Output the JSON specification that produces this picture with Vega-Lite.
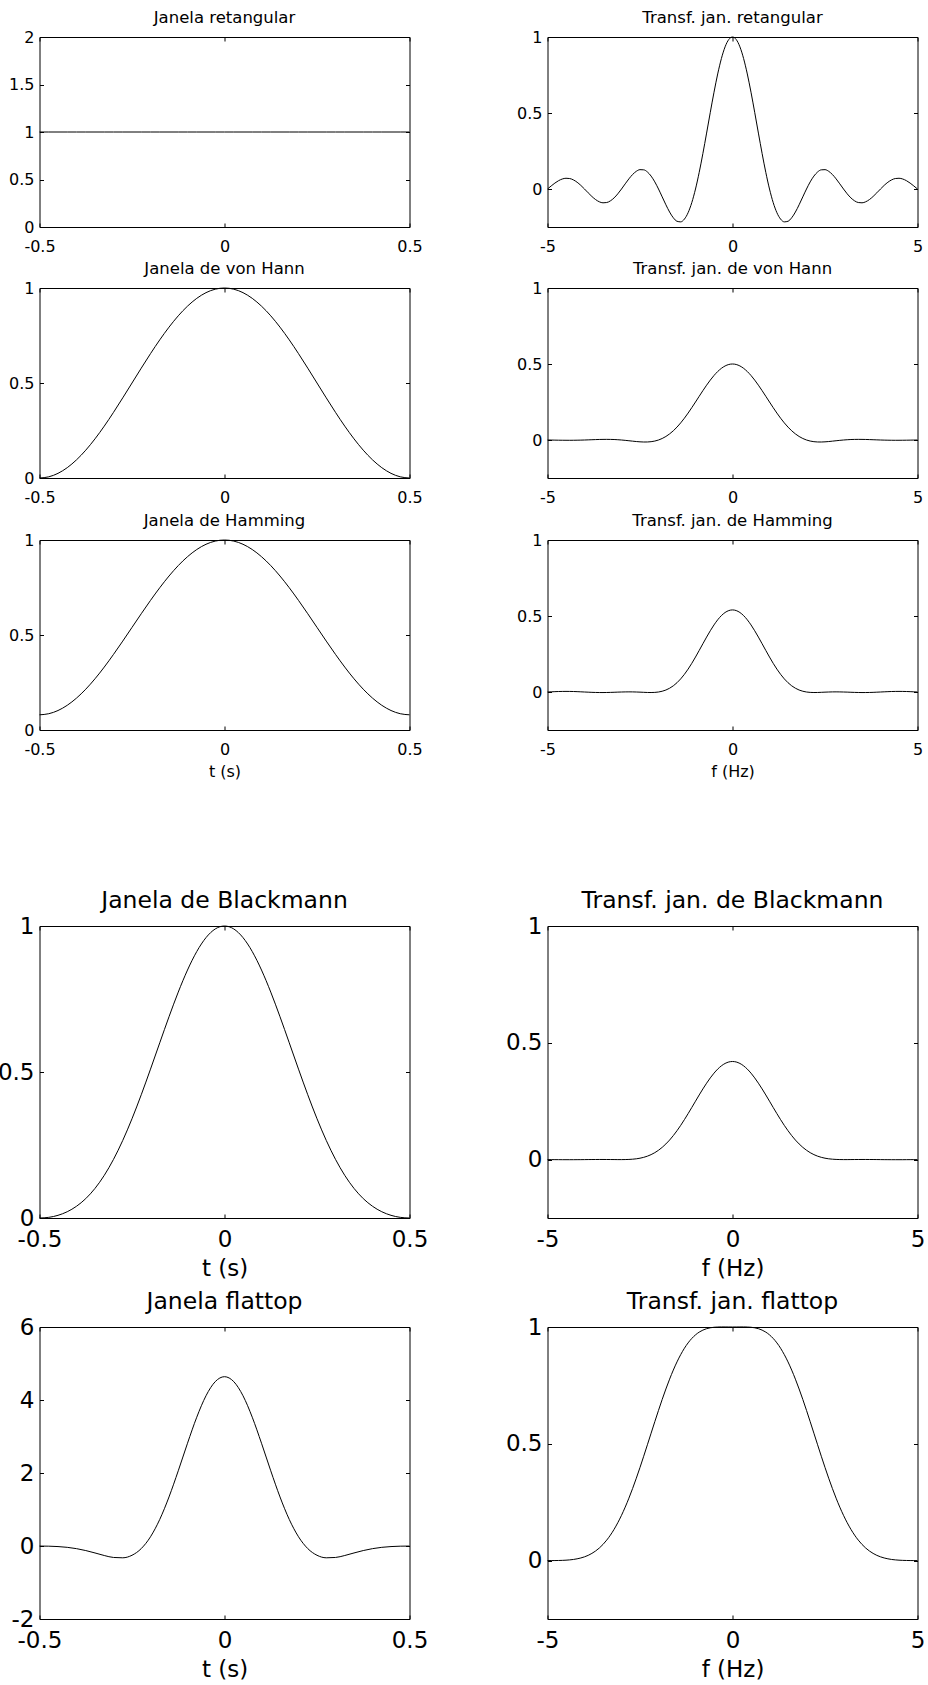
{
"$schema": "https://vega.github.io/schema/vega-lite/v6.json",
"padding": {"left": -3.5, "top": 9, "right": 0, "bottom": 0},
"background": "white",
"config": {
  "font": "DejaVu Sans",
  "view": {"stroke": "black", "strokeWidth": 1},
  "axis": {"grid": false, "domain": false, "ticks": true, "tickColor": "black", "tickSize": -4, "tickWidth": 1, "labelColor": "black", "titleColor": "black", "titleFontWeight": "normal", "labelFlush": false, "labelOverlap": false, "labelBound": false},
  "title": {"color": "black", "fontWeight": "normal", "frame": "group", "anchor": "middle"},
  "line": {"color": "black", "strokeWidth": 1, "interpolate": "monotone"}
},
"datasets": {
"time": [
{"t":-0.5,"rect":1,"hann":0,"hamming":0.08,"blackman":0,"flattop":-0.002},
{"t":-0.475,"rect":1,"hann":0.0062,"hamming":0.0857,"blackman":0.0022,"flattop":-0.005},
{"t":-0.45,"rect":1,"hann":0.0245,"hamming":0.1025,"blackman":0.0092,"flattop":-0.0155},
{"t":-0.425,"rect":1,"hann":0.0545,"hamming":0.1301,"blackman":0.0215,"flattop":-0.0366},
{"t":-0.4,"rect":1,"hann":0.0955,"hamming":0.1679,"blackman":0.0402,"flattop":-0.0724},
{"t":-0.375,"rect":1,"hann":0.1464,"hamming":0.2147,"blackman":0.0664,"flattop":-0.1247},
{"t":-0.35,"rect":1,"hann":0.2061,"hamming":0.2696,"blackman":0.1014,"flattop":-0.1907},
{"t":-0.325,"rect":1,"hann":0.273,"hamming":0.3312,"blackman":0.146,"flattop":-0.2604},
{"t":-0.3,"rect":1,"hann":0.3455,"hamming":0.3979,"blackman":0.2008,"flattop":-0.3141},
{"t":-0.275,"rect":1,"hann":0.4218,"hamming":0.468,"blackman":0.2657,"flattop":-0.3234},
{"t":-0.25,"rect":1,"hann":0.5,"hamming":0.54,"blackman":0.34,"flattop":-0.2539},
{"t":-0.225,"rect":1,"hann":0.5782,"hamming":0.612,"blackman":0.4221,"flattop":-0.0708},
{"t":-0.2,"rect":1,"hann":0.6545,"hamming":0.6821,"blackman":0.5098,"flattop":0.253},
{"t":-0.175,"rect":1,"hann":0.727,"hamming":0.7488,"blackman":0.6,"flattop":0.7285},
{"t":-0.15,"rect":1,"hann":0.7939,"hamming":0.8104,"blackman":0.6892,"flattop":1.3437},
{"t":-0.125,"rect":1,"hann":0.8536,"hamming":0.8653,"blackman":0.7736,"flattop":2.0602},
{"t":-0.1,"rect":1,"hann":0.9045,"hamming":0.9121,"blackman":0.8492,"flattop":2.8151},
{"t":-0.075,"rect":1,"hann":0.9455,"hamming":0.9499,"blackman":0.9125,"flattop":3.5286},
{"t":-0.05,"rect":1,"hann":0.9755,"hamming":0.9775,"blackman":0.9602,"flattop":4.1164},
{"t":-0.025,"rect":1,"hann":0.9938,"hamming":0.9943,"blackman":0.9899,"flattop":4.5035},
{"t":0,"rect":1,"hann":1,"hamming":1,"blackman":1,"flattop":4.6387},
{"t":0.025,"rect":1,"hann":0.9938,"hamming":0.9943,"blackman":0.9899,"flattop":4.5035},
{"t":0.05,"rect":1,"hann":0.9755,"hamming":0.9775,"blackman":0.9602,"flattop":4.1164},
{"t":0.075,"rect":1,"hann":0.9455,"hamming":0.9499,"blackman":0.9125,"flattop":3.5286},
{"t":0.1,"rect":1,"hann":0.9045,"hamming":0.9121,"blackman":0.8492,"flattop":2.8151},
{"t":0.125,"rect":1,"hann":0.8536,"hamming":0.8653,"blackman":0.7736,"flattop":2.0602},
{"t":0.15,"rect":1,"hann":0.7939,"hamming":0.8104,"blackman":0.6892,"flattop":1.3437},
{"t":0.175,"rect":1,"hann":0.727,"hamming":0.7488,"blackman":0.6,"flattop":0.7285},
{"t":0.2,"rect":1,"hann":0.6545,"hamming":0.6821,"blackman":0.5098,"flattop":0.253},
{"t":0.225,"rect":1,"hann":0.5782,"hamming":0.612,"blackman":0.4221,"flattop":-0.0708},
{"t":0.25,"rect":1,"hann":0.5,"hamming":0.54,"blackman":0.34,"flattop":-0.2539},
{"t":0.275,"rect":1,"hann":0.4218,"hamming":0.468,"blackman":0.2657,"flattop":-0.3234},
{"t":0.3,"rect":1,"hann":0.3455,"hamming":0.3979,"blackman":0.2008,"flattop":-0.3141},
{"t":0.325,"rect":1,"hann":0.273,"hamming":0.3312,"blackman":0.146,"flattop":-0.2604},
{"t":0.35,"rect":1,"hann":0.2061,"hamming":0.2696,"blackman":0.1014,"flattop":-0.1907},
{"t":0.375,"rect":1,"hann":0.1464,"hamming":0.2147,"blackman":0.0664,"flattop":-0.1247},
{"t":0.4,"rect":1,"hann":0.0955,"hamming":0.1679,"blackman":0.0402,"flattop":-0.0724},
{"t":0.425,"rect":1,"hann":0.0545,"hamming":0.1301,"blackman":0.0215,"flattop":-0.0366},
{"t":0.45,"rect":1,"hann":0.0245,"hamming":0.1025,"blackman":0.0092,"flattop":-0.0155},
{"t":0.475,"rect":1,"hann":0.0062,"hamming":0.0857,"blackman":0.0022,"flattop":-0.005},
{"t":0.5,"rect":1,"hann":0,"hamming":0.08,"blackman":0,"flattop":-0.002}
],
"freq": [
{"f":-5,"rect":0,"hann":0,"hamming":0,"blackman":0,"flattop":0},
{"f":-4.9,"rect":0.0201,"hann":-0.0004,"hamming":0.0012,"blackman":-0.0001,"flattop":0.0001},
{"f":-4.8,"rect":0.039,"hann":-0.0009,"hamming":0.0023,"blackman":-0.0002,"flattop":0.0002},
{"f":-4.7,"rect":0.0548,"hann":-0.0013,"hamming":0.0032,"blackman":-0.0003,"flattop":0.0005},
{"f":-4.6,"rect":0.0658,"hann":-0.0016,"hamming":0.0038,"blackman":-0.0004,"flattop":0.001},
{"f":-4.5,"rect":0.0707,"hann":-0.0018,"hamming":0.004,"blackman":-0.0004,"flattop":0.0018},
{"f":-4.4,"rect":0.0688,"hann":-0.0019,"hamming":0.0038,"blackman":-0.0004,"flattop":0.0031},
{"f":-4.3,"rect":0.0599,"hann":-0.0017,"hamming":0.0032,"blackman":-0.0004,"flattop":0.0049},
{"f":-4.2,"rect":0.0445,"hann":-0.0013,"hamming":0.0023,"blackman":-0.0003,"flattop":0.0076},
{"f":-4.1,"rect":0.024,"hann":-0.0008,"hamming":0.0012,"blackman":-0.0002,"flattop":0.0112},
{"f":-4,"rect":0,"hann":0,"hamming":0,"blackman":0,"flattop":0.0161},
{"f":-3.9,"rect":-0.0252,"hann":0.0009,"hamming":-0.0012,"blackman":0.0002,"flattop":0.0225},
{"f":-3.8,"rect":-0.0492,"hann":0.0018,"hamming":-0.0023,"blackman":0.0003,"flattop":0.0308},
{"f":-3.7,"rect":-0.0696,"hann":0.0027,"hamming":-0.003,"blackman":0.0004,"flattop":0.0411},
{"f":-3.6,"rect":-0.0841,"hann":0.0035,"hamming":-0.0035,"blackman":0.0005,"flattop":0.0538},
{"f":-3.5,"rect":-0.0909,"hann":0.004,"hamming":-0.0036,"blackman":0.0005,"flattop":0.0692},
{"f":-3.4,"rect":-0.089,"hann":0.0042,"hamming":-0.0032,"blackman":0.0004,"flattop":0.0876},
{"f":-3.3,"rect":-0.078,"hann":0.0039,"hamming":-0.0026,"blackman":0.0003,"flattop":0.1091},
{"f":-3.2,"rect":-0.0585,"hann":0.0032,"hamming":-0.0018,"blackman":0.0002,"flattop":0.1339},
{"f":-3.1,"rect":-0.0317,"hann":0.0018,"hamming":-0.0008,"blackman":0,"flattop":0.1622},
{"f":-3,"rect":0,"hann":0,"hamming":0,"blackman":0,"flattop":0.1938},
{"f":-2.9,"rect":0.0339,"hann":-0.0023,"hamming":0.0006,"blackman":0.0002,"flattop":0.2289},
{"f":-2.8,"rect":0.0668,"hann":-0.0049,"hamming":0.0009,"blackman":0.0007,"flattop":0.2673},
{"f":-2.7,"rect":0.0954,"hann":-0.0076,"hamming":0.0007,"blackman":0.0017,"flattop":0.3086},
{"f":-2.6,"rect":0.1164,"hann":-0.0101,"hamming":0,"blackman":0.0034,"flattop":0.3526},
{"f":-2.5,"rect":0.1273,"hann":-0.0121,"hamming":-0.001,"blackman":0.006,"flattop":0.3988},
{"f":-2.4,"rect":0.1261,"hann":-0.0132,"hamming":-0.0021,"blackman":0.0097,"flattop":0.4467},
{"f":-2.3,"rect":0.112,"hann":-0.013,"hamming":-0.0031,"blackman":0.0147,"flattop":0.4958},
{"f":-2.2,"rect":0.085,"hann":-0.0111,"hamming":-0.0034,"blackman":0.0213,"flattop":0.5453},
{"f":-2.1,"rect":0.0468,"hann":-0.0069,"hamming":-0.0026,"blackman":0.0297,"flattop":0.5946},
{"f":-2,"rect":0,"hann":0,"hamming":0,"blackman":0.04,"flattop":0.6431},
{"f":-1.9,"rect":-0.0518,"hann":0.0099,"hamming":0.005,"blackman":0.0524,"flattop":0.69},
{"f":-1.8,"rect":-0.1039,"hann":0.0232,"hamming":0.013,"blackman":0.067,"flattop":0.7347},
{"f":-1.7,"rect":-0.1515,"hann":0.0401,"hamming":0.0248,"blackman":0.0837,"flattop":0.7767},
{"f":-1.6,"rect":-0.1892,"hann":0.0606,"hamming":0.0407,"blackman":0.1027,"flattop":0.8155},
{"f":-1.5,"rect":-0.2122,"hann":0.0849,"hamming":0.0611,"blackman":0.1237,"flattop":0.8506},
{"f":-1.4,"rect":-0.2162,"hann":0.1126,"hamming":0.0863,"blackman":0.1465,"flattop":0.8818},
{"f":-1.3,"rect":-0.1981,"hann":0.1435,"hamming":0.1162,"blackman":0.171,"flattop":0.909},
{"f":-1.2,"rect":-0.1559,"hann":0.1772,"hamming":0.1505,"blackman":0.1967,"flattop":0.932},
{"f":-1.1,"rect":-0.0894,"hann":0.2129,"hamming":0.1887,"blackman":0.2232,"flattop":0.9511},
{"f":-1,"rect":0,"hann":0.25,"hamming":0.23,"blackman":0.25,"flattop":0.9663},
{"f":-0.9,"rect":0.1093,"hann":0.2876,"hamming":0.2734,"blackman":0.2767,"flattop":0.9781},
{"f":-0.8,"rect":0.2339,"hann":0.3248,"hamming":0.3176,"blackman":0.3026,"flattop":0.9867},
{"f":-0.7,"rect":0.3679,"hann":0.3607,"hamming":0.3613,"blackman":0.3271,"flattop":0.9928},
{"f":-0.6,"rect":0.5046,"hann":0.3942,"hamming":0.403,"blackman":0.3498,"flattop":0.9966},
{"f":-0.5,"rect":0.6366,"hann":0.4244,"hamming":0.4414,"blackman":0.3701,"flattop":0.9989},
{"f":-0.4,"rect":0.7568,"hann":0.4505,"hamming":0.475,"blackman":0.3874,"flattop":0.9999},
{"f":-0.3,"rect":0.8584,"hann":0.4716,"hamming":0.5026,"blackman":0.4014,"flattop":1.0003},
{"f":-0.2,"rect":0.9355,"hann":0.4872,"hamming":0.5231,"blackman":0.4116,"flattop":1.0002},
{"f":-0.1,"rect":0.9836,"hann":0.4968,"hamming":0.5357,"blackman":0.4179,"flattop":1.0001},
{"f":0,"rect":1,"hann":0.5,"hamming":0.54,"blackman":0.42,"flattop":1},
{"f":0.1,"rect":0.9836,"hann":0.4968,"hamming":0.5357,"blackman":0.4179,"flattop":1.0001},
{"f":0.2,"rect":0.9355,"hann":0.4872,"hamming":0.5231,"blackman":0.4116,"flattop":1.0002},
{"f":0.3,"rect":0.8584,"hann":0.4716,"hamming":0.5026,"blackman":0.4014,"flattop":1.0003},
{"f":0.4,"rect":0.7568,"hann":0.4505,"hamming":0.475,"blackman":0.3874,"flattop":0.9999},
{"f":0.5,"rect":0.6366,"hann":0.4244,"hamming":0.4414,"blackman":0.3701,"flattop":0.9989},
{"f":0.6,"rect":0.5046,"hann":0.3942,"hamming":0.403,"blackman":0.3498,"flattop":0.9966},
{"f":0.7,"rect":0.3679,"hann":0.3607,"hamming":0.3613,"blackman":0.3271,"flattop":0.9928},
{"f":0.8,"rect":0.2339,"hann":0.3248,"hamming":0.3176,"blackman":0.3026,"flattop":0.9867},
{"f":0.9,"rect":0.1093,"hann":0.2876,"hamming":0.2734,"blackman":0.2767,"flattop":0.9781},
{"f":1,"rect":0,"hann":0.25,"hamming":0.23,"blackman":0.25,"flattop":0.9663},
{"f":1.1,"rect":-0.0894,"hann":0.2129,"hamming":0.1887,"blackman":0.2232,"flattop":0.9511},
{"f":1.2,"rect":-0.1559,"hann":0.1772,"hamming":0.1505,"blackman":0.1967,"flattop":0.932},
{"f":1.3,"rect":-0.1981,"hann":0.1435,"hamming":0.1162,"blackman":0.171,"flattop":0.909},
{"f":1.4,"rect":-0.2162,"hann":0.1126,"hamming":0.0863,"blackman":0.1465,"flattop":0.8818},
{"f":1.5,"rect":-0.2122,"hann":0.0849,"hamming":0.0611,"blackman":0.1237,"flattop":0.8506},
{"f":1.6,"rect":-0.1892,"hann":0.0606,"hamming":0.0407,"blackman":0.1027,"flattop":0.8155},
{"f":1.7,"rect":-0.1515,"hann":0.0401,"hamming":0.0248,"blackman":0.0837,"flattop":0.7767},
{"f":1.8,"rect":-0.1039,"hann":0.0232,"hamming":0.013,"blackman":0.067,"flattop":0.7347},
{"f":1.9,"rect":-0.0518,"hann":0.0099,"hamming":0.005,"blackman":0.0524,"flattop":0.69},
{"f":2,"rect":0,"hann":0,"hamming":0,"blackman":0.04,"flattop":0.6431},
{"f":2.1,"rect":0.0468,"hann":-0.0069,"hamming":-0.0026,"blackman":0.0297,"flattop":0.5946},
{"f":2.2,"rect":0.085,"hann":-0.0111,"hamming":-0.0034,"blackman":0.0213,"flattop":0.5453},
{"f":2.3,"rect":0.112,"hann":-0.013,"hamming":-0.0031,"blackman":0.0147,"flattop":0.4958},
{"f":2.4,"rect":0.1261,"hann":-0.0132,"hamming":-0.0021,"blackman":0.0097,"flattop":0.4467},
{"f":2.5,"rect":0.1273,"hann":-0.0121,"hamming":-0.001,"blackman":0.006,"flattop":0.3988},
{"f":2.6,"rect":0.1164,"hann":-0.0101,"hamming":0,"blackman":0.0034,"flattop":0.3526},
{"f":2.7,"rect":0.0954,"hann":-0.0076,"hamming":0.0007,"blackman":0.0017,"flattop":0.3086},
{"f":2.8,"rect":0.0668,"hann":-0.0049,"hamming":0.0009,"blackman":0.0007,"flattop":0.2673},
{"f":2.9,"rect":0.0339,"hann":-0.0023,"hamming":0.0006,"blackman":0.0002,"flattop":0.2289},
{"f":3,"rect":0,"hann":0,"hamming":0,"blackman":0,"flattop":0.1938},
{"f":3.1,"rect":-0.0317,"hann":0.0018,"hamming":-0.0008,"blackman":0,"flattop":0.1622},
{"f":3.2,"rect":-0.0585,"hann":0.0032,"hamming":-0.0018,"blackman":0.0002,"flattop":0.1339},
{"f":3.3,"rect":-0.078,"hann":0.0039,"hamming":-0.0026,"blackman":0.0003,"flattop":0.1091},
{"f":3.4,"rect":-0.089,"hann":0.0042,"hamming":-0.0032,"blackman":0.0004,"flattop":0.0876},
{"f":3.5,"rect":-0.0909,"hann":0.004,"hamming":-0.0036,"blackman":0.0005,"flattop":0.0692},
{"f":3.6,"rect":-0.0841,"hann":0.0035,"hamming":-0.0035,"blackman":0.0005,"flattop":0.0538},
{"f":3.7,"rect":-0.0696,"hann":0.0027,"hamming":-0.003,"blackman":0.0004,"flattop":0.0411},
{"f":3.8,"rect":-0.0492,"hann":0.0018,"hamming":-0.0023,"blackman":0.0003,"flattop":0.0308},
{"f":3.9,"rect":-0.0252,"hann":0.0009,"hamming":-0.0012,"blackman":0.0002,"flattop":0.0225},
{"f":4,"rect":0,"hann":0,"hamming":0,"blackman":0,"flattop":0.0161},
{"f":4.1,"rect":0.024,"hann":-0.0008,"hamming":0.0012,"blackman":-0.0002,"flattop":0.0112},
{"f":4.2,"rect":0.0445,"hann":-0.0013,"hamming":0.0023,"blackman":-0.0003,"flattop":0.0076},
{"f":4.3,"rect":0.0599,"hann":-0.0017,"hamming":0.0032,"blackman":-0.0004,"flattop":0.0049},
{"f":4.4,"rect":0.0688,"hann":-0.0019,"hamming":0.0038,"blackman":-0.0004,"flattop":0.0031},
{"f":4.5,"rect":0.0707,"hann":-0.0018,"hamming":0.004,"blackman":-0.0004,"flattop":0.0018},
{"f":4.6,"rect":0.0658,"hann":-0.0016,"hamming":0.0038,"blackman":-0.0004,"flattop":0.001},
{"f":4.7,"rect":0.0548,"hann":-0.0013,"hamming":0.0032,"blackman":-0.0003,"flattop":0.0005},
{"f":4.8,"rect":0.039,"hann":-0.0009,"hamming":0.0023,"blackman":-0.0002,"flattop":0.0002},
{"f":4.9,"rect":0.0201,"hann":-0.0004,"hamming":0.0012,"blackman":-0.0001,"flattop":0.0001},
{"f":5,"rect":0,"hann":0,"hamming":0,"blackman":0,"flattop":0}
]
},
"columns": 2,
"spacing": {"row": 0, "column": 138},
"bounds": "flush",
"concat": [
{"width": 370, "height": 190, "data": {"name": "time"}, "title": {"text": "Janela retangular", "fontSize": 16.5, "offset": 3},
 "layer": [
  {"mark": "line", "encoding": {
    "x": {"field": "t", "type": "quantitative", "scale": {"domain": [-0.5, 0.5], "nice": false, "zero": false}, "axis": {"orient": "bottom", "values": [-0.5, 0, 0.5], "labelExpr": "'' + datum.value", "labelFontSize": 16, "labelPadding": 15, "title": null}},
    "y": {"field": "rect", "type": "quantitative", "scale": {"domain": [0, 2], "nice": false, "zero": false}, "axis": {"orient": "left", "values": [0, 0.5, 1, 1.5, 2], "labelExpr": "'' + datum.value", "labelFontSize": 16, "labelPadding": 9.5, "title": null}}}},
  {"mark": {"type": "line", "opacity": 0}, "encoding": {
    "x": {"field": "t", "type": "quantitative", "scale": {"domain": [-0.5, 0.5], "nice": false, "zero": false}, "axis": {"orient": "top", "values": [-0.5, 0, 0.5], "labels": false, "title": null}},
    "y": {"field": "rect", "type": "quantitative", "scale": {"domain": [0, 2], "nice": false, "zero": false}, "axis": {"orient": "right", "values": [0, 0.5, 1, 1.5, 2], "labels": false, "title": null}}}}
 ],
 "resolve": {"axis": {"x": "independent", "y": "independent"}}},
{"width": 370, "height": 190, "data": {"name": "freq"}, "title": {"text": "Transf. jan. retangular", "fontSize": 16.5, "offset": 3},
 "layer": [
  {"mark": "line", "encoding": {
    "x": {"field": "f", "type": "quantitative", "scale": {"domain": [-5, 5], "nice": false, "zero": false}, "axis": {"orient": "bottom", "values": [-5, 0, 5], "labelExpr": "'' + datum.value", "labelFontSize": 16, "labelPadding": 15, "title": null}},
    "y": {"field": "rect", "type": "quantitative", "scale": {"domain": [-0.25, 1], "nice": false, "zero": false}, "axis": {"orient": "left", "values": [0, 0.5, 1], "labelExpr": "'' + datum.value", "labelFontSize": 16, "labelPadding": 9.5, "title": null}}}},
  {"mark": {"type": "line", "opacity": 0}, "encoding": {
    "x": {"field": "f", "type": "quantitative", "scale": {"domain": [-5, 5], "nice": false, "zero": false}, "axis": {"orient": "top", "values": [-5, 0, 5], "labels": false, "title": null}},
    "y": {"field": "rect", "type": "quantitative", "scale": {"domain": [-0.25, 1], "nice": false, "zero": false}, "axis": {"orient": "right", "values": [0, 0.5, 1], "labels": false, "title": null}}}}
 ],
 "resolve": {"axis": {"x": "independent", "y": "independent"}}},
{"width": 370, "height": 61, "data": {"values": []}, "mark": "point", "view": {"stroke": null}},
{"width": 370, "height": 61, "data": {"values": []}, "mark": "point", "view": {"stroke": null}},
{"width": 370, "height": 190, "data": {"name": "time"}, "title": {"text": "Janela de von Hann", "fontSize": 16.5, "offset": 3},
 "layer": [
  {"mark": "line", "encoding": {
    "x": {"field": "t", "type": "quantitative", "scale": {"domain": [-0.5, 0.5], "nice": false, "zero": false}, "axis": {"orient": "bottom", "values": [-0.5, 0, 0.5], "labelExpr": "'' + datum.value", "labelFontSize": 16, "labelPadding": 15, "title": null}},
    "y": {"field": "hann", "type": "quantitative", "scale": {"domain": [0, 1], "nice": false, "zero": false}, "axis": {"orient": "left", "values": [0, 0.5, 1], "labelExpr": "'' + datum.value", "labelFontSize": 16, "labelPadding": 9.5, "title": null}}}},
  {"mark": {"type": "line", "opacity": 0}, "encoding": {
    "x": {"field": "t", "type": "quantitative", "scale": {"domain": [-0.5, 0.5], "nice": false, "zero": false}, "axis": {"orient": "top", "values": [-0.5, 0, 0.5], "labels": false, "title": null}},
    "y": {"field": "hann", "type": "quantitative", "scale": {"domain": [0, 1], "nice": false, "zero": false}, "axis": {"orient": "right", "values": [0, 0.5, 1], "labels": false, "title": null}}}}
 ],
 "resolve": {"axis": {"x": "independent", "y": "independent"}}},
{"width": 370, "height": 190, "data": {"name": "freq"}, "title": {"text": "Transf. jan. de von Hann", "fontSize": 16.5, "offset": 3},
 "layer": [
  {"mark": "line", "encoding": {
    "x": {"field": "f", "type": "quantitative", "scale": {"domain": [-5, 5], "nice": false, "zero": false}, "axis": {"orient": "bottom", "values": [-5, 0, 5], "labelExpr": "'' + datum.value", "labelFontSize": 16, "labelPadding": 15, "title": null}},
    "y": {"field": "hann", "type": "quantitative", "scale": {"domain": [-0.25, 1], "nice": false, "zero": false}, "axis": {"orient": "left", "values": [0, 0.5, 1], "labelExpr": "'' + datum.value", "labelFontSize": 16, "labelPadding": 9.5, "title": null}}}},
  {"mark": {"type": "line", "opacity": 0}, "encoding": {
    "x": {"field": "f", "type": "quantitative", "scale": {"domain": [-5, 5], "nice": false, "zero": false}, "axis": {"orient": "top", "values": [-5, 0, 5], "labels": false, "title": null}},
    "y": {"field": "hann", "type": "quantitative", "scale": {"domain": [-0.25, 1], "nice": false, "zero": false}, "axis": {"orient": "right", "values": [0, 0.5, 1], "labels": false, "title": null}}}}
 ],
 "resolve": {"axis": {"x": "independent", "y": "independent"}}},
{"width": 370, "height": 62, "data": {"values": []}, "mark": "point", "view": {"stroke": null}},
{"width": 370, "height": 62, "data": {"values": []}, "mark": "point", "view": {"stroke": null}},
{"width": 370, "height": 190, "data": {"name": "time"}, "title": {"text": "Janela de Hamming", "fontSize": 16.5, "offset": 3},
 "layer": [
  {"mark": "line", "encoding": {
    "x": {"field": "t", "type": "quantitative", "scale": {"domain": [-0.5, 0.5], "nice": false, "zero": false}, "axis": {"orient": "bottom", "values": [-0.5, 0, 0.5], "labelExpr": "'' + datum.value", "labelFontSize": 16, "labelPadding": 15, "title": "t (s)", "titleFontSize": 16, "titlePadding": 6}},
    "y": {"field": "hamming", "type": "quantitative", "scale": {"domain": [0, 1], "nice": false, "zero": false}, "axis": {"orient": "left", "values": [0, 0.5, 1], "labelExpr": "'' + datum.value", "labelFontSize": 16, "labelPadding": 9.5, "title": null}}}},
  {"mark": {"type": "line", "opacity": 0}, "encoding": {
    "x": {"field": "t", "type": "quantitative", "scale": {"domain": [-0.5, 0.5], "nice": false, "zero": false}, "axis": {"orient": "top", "values": [-0.5, 0, 0.5], "labels": false, "title": null}},
    "y": {"field": "hamming", "type": "quantitative", "scale": {"domain": [0, 1], "nice": false, "zero": false}, "axis": {"orient": "right", "values": [0, 0.5, 1], "labels": false, "title": null}}}}
 ],
 "resolve": {"axis": {"x": "independent", "y": "independent"}}},
{"width": 370, "height": 190, "data": {"name": "freq"}, "title": {"text": "Transf. jan. de Hamming", "fontSize": 16.5, "offset": 3},
 "layer": [
  {"mark": "line", "encoding": {
    "x": {"field": "f", "type": "quantitative", "scale": {"domain": [-5, 5], "nice": false, "zero": false}, "axis": {"orient": "bottom", "values": [-5, 0, 5], "labelExpr": "'' + datum.value", "labelFontSize": 16, "labelPadding": 15, "title": "f (Hz)", "titleFontSize": 16, "titlePadding": 6}},
    "y": {"field": "hamming", "type": "quantitative", "scale": {"domain": [-0.25, 1], "nice": false, "zero": false}, "axis": {"orient": "left", "values": [0, 0.5, 1], "labelExpr": "'' + datum.value", "labelFontSize": 16, "labelPadding": 9.5, "title": null}}}},
  {"mark": {"type": "line", "opacity": 0}, "encoding": {
    "x": {"field": "f", "type": "quantitative", "scale": {"domain": [-5, 5], "nice": false, "zero": false}, "axis": {"orient": "top", "values": [-5, 0, 5], "labels": false, "title": null}},
    "y": {"field": "hamming", "type": "quantitative", "scale": {"domain": [-0.25, 1], "nice": false, "zero": false}, "axis": {"orient": "right", "values": [0, 0.5, 1], "labels": false, "title": null}}}}
 ],
 "resolve": {"axis": {"x": "independent", "y": "independent"}}},
{"width": 370, "height": 196, "data": {"values": []}, "mark": "point", "view": {"stroke": null}},
{"width": 370, "height": 196, "data": {"values": []}, "mark": "point", "view": {"stroke": null}},
{"width": 370, "height": 292, "data": {"name": "time"}, "title": {"text": "Janela de Blackmann", "fontSize": 23.5, "offset": 3},
 "layer": [
  {"mark": "line", "encoding": {
    "x": {"field": "t", "type": "quantitative", "scale": {"domain": [-0.5, 0.5], "nice": false, "zero": false}, "axis": {"orient": "bottom", "values": [-0.5, 0, 0.5], "labelExpr": "'' + datum.value", "labelFontSize": 23, "labelPadding": 14, "title": "t (s)", "titleFontSize": 23, "titlePadding": 6}},
    "y": {"field": "blackman", "type": "quantitative", "scale": {"domain": [0, 1], "nice": false, "zero": false}, "axis": {"orient": "left", "values": [0, 0.5, 1], "labelExpr": "'' + datum.value", "labelFontSize": 23, "labelPadding": 9.5, "title": null}}}},
  {"mark": {"type": "line", "opacity": 0}, "encoding": {
    "x": {"field": "t", "type": "quantitative", "scale": {"domain": [-0.5, 0.5], "nice": false, "zero": false}, "axis": {"orient": "top", "values": [-0.5, 0, 0.5], "labels": false, "title": null}},
    "y": {"field": "blackman", "type": "quantitative", "scale": {"domain": [0, 1], "nice": false, "zero": false}, "axis": {"orient": "right", "values": [0, 0.5, 1], "labels": false, "title": null}}}}
 ],
 "resolve": {"axis": {"x": "independent", "y": "independent"}}},
{"width": 370, "height": 292, "data": {"name": "freq"}, "title": {"text": "Transf. jan. de Blackmann", "fontSize": 23.5, "offset": 3},
 "layer": [
  {"mark": "line", "encoding": {
    "x": {"field": "f", "type": "quantitative", "scale": {"domain": [-5, 5], "nice": false, "zero": false}, "axis": {"orient": "bottom", "values": [-5, 0, 5], "labelExpr": "'' + datum.value", "labelFontSize": 23, "labelPadding": 14, "title": "f (Hz)", "titleFontSize": 23, "titlePadding": 6}},
    "y": {"field": "blackman", "type": "quantitative", "scale": {"domain": [-0.25, 1], "nice": false, "zero": false}, "axis": {"orient": "left", "values": [0, 0.5, 1], "labelExpr": "'' + datum.value", "labelFontSize": 23, "labelPadding": 9.5, "title": null}}}},
  {"mark": {"type": "line", "opacity": 0}, "encoding": {
    "x": {"field": "f", "type": "quantitative", "scale": {"domain": [-5, 5], "nice": false, "zero": false}, "axis": {"orient": "top", "values": [-5, 0, 5], "labels": false, "title": null}},
    "y": {"field": "blackman", "type": "quantitative", "scale": {"domain": [-0.25, 1], "nice": false, "zero": false}, "axis": {"orient": "right", "values": [0, 0.5, 1], "labels": false, "title": null}}}}
 ],
 "resolve": {"axis": {"x": "independent", "y": "independent"}}},
{"width": 370, "height": 109, "data": {"values": []}, "mark": "point", "view": {"stroke": null}},
{"width": 370, "height": 109, "data": {"values": []}, "mark": "point", "view": {"stroke": null}},
{"width": 370, "height": 292, "data": {"name": "time"}, "title": {"text": "Janela flattop", "fontSize": 23.5, "offset": 3},
 "layer": [
  {"mark": "line", "encoding": {
    "x": {"field": "t", "type": "quantitative", "scale": {"domain": [-0.5, 0.5], "nice": false, "zero": false}, "axis": {"orient": "bottom", "values": [-0.5, 0, 0.5], "labelExpr": "'' + datum.value", "labelFontSize": 23, "labelPadding": 14, "title": "t (s)", "titleFontSize": 23, "titlePadding": 6}},
    "y": {"field": "flattop", "type": "quantitative", "scale": {"domain": [-2, 6], "nice": false, "zero": false}, "axis": {"orient": "left", "values": [-2, 0, 2, 4, 6], "labelExpr": "'' + datum.value", "labelFontSize": 23, "labelPadding": 9.5, "title": null}}}},
  {"mark": {"type": "line", "opacity": 0}, "encoding": {
    "x": {"field": "t", "type": "quantitative", "scale": {"domain": [-0.5, 0.5], "nice": false, "zero": false}, "axis": {"orient": "top", "values": [-0.5, 0, 0.5], "labels": false, "title": null}},
    "y": {"field": "flattop", "type": "quantitative", "scale": {"domain": [-2, 6], "nice": false, "zero": false}, "axis": {"orient": "right", "values": [-2, 0, 2, 4, 6], "labels": false, "title": null}}}}
 ],
 "resolve": {"axis": {"x": "independent", "y": "independent"}}},
{"width": 370, "height": 292, "data": {"name": "freq"}, "title": {"text": "Transf. jan. flattop", "fontSize": 23.5, "offset": 3},
 "layer": [
  {"mark": "line", "encoding": {
    "x": {"field": "f", "type": "quantitative", "scale": {"domain": [-5, 5], "nice": false, "zero": false}, "axis": {"orient": "bottom", "values": [-5, 0, 5], "labelExpr": "'' + datum.value", "labelFontSize": 23, "labelPadding": 14, "title": "f (Hz)", "titleFontSize": 23, "titlePadding": 6}},
    "y": {"field": "flattop", "type": "quantitative", "scale": {"domain": [-0.25, 1], "nice": false, "zero": false}, "axis": {"orient": "left", "values": [0, 0.5, 1], "labelExpr": "'' + datum.value", "labelFontSize": 23, "labelPadding": 9.5, "title": null}}}},
  {"mark": {"type": "line", "opacity": 0}, "encoding": {
    "x": {"field": "f", "type": "quantitative", "scale": {"domain": [-5, 5], "nice": false, "zero": false}, "axis": {"orient": "top", "values": [-5, 0, 5], "labels": false, "title": null}},
    "y": {"field": "flattop", "type": "quantitative", "scale": {"domain": [-0.25, 1], "nice": false, "zero": false}, "axis": {"orient": "right", "values": [0, 0.5, 1], "labels": false, "title": null}}}}
 ],
 "resolve": {"axis": {"x": "independent", "y": "independent"}}}
]
}
